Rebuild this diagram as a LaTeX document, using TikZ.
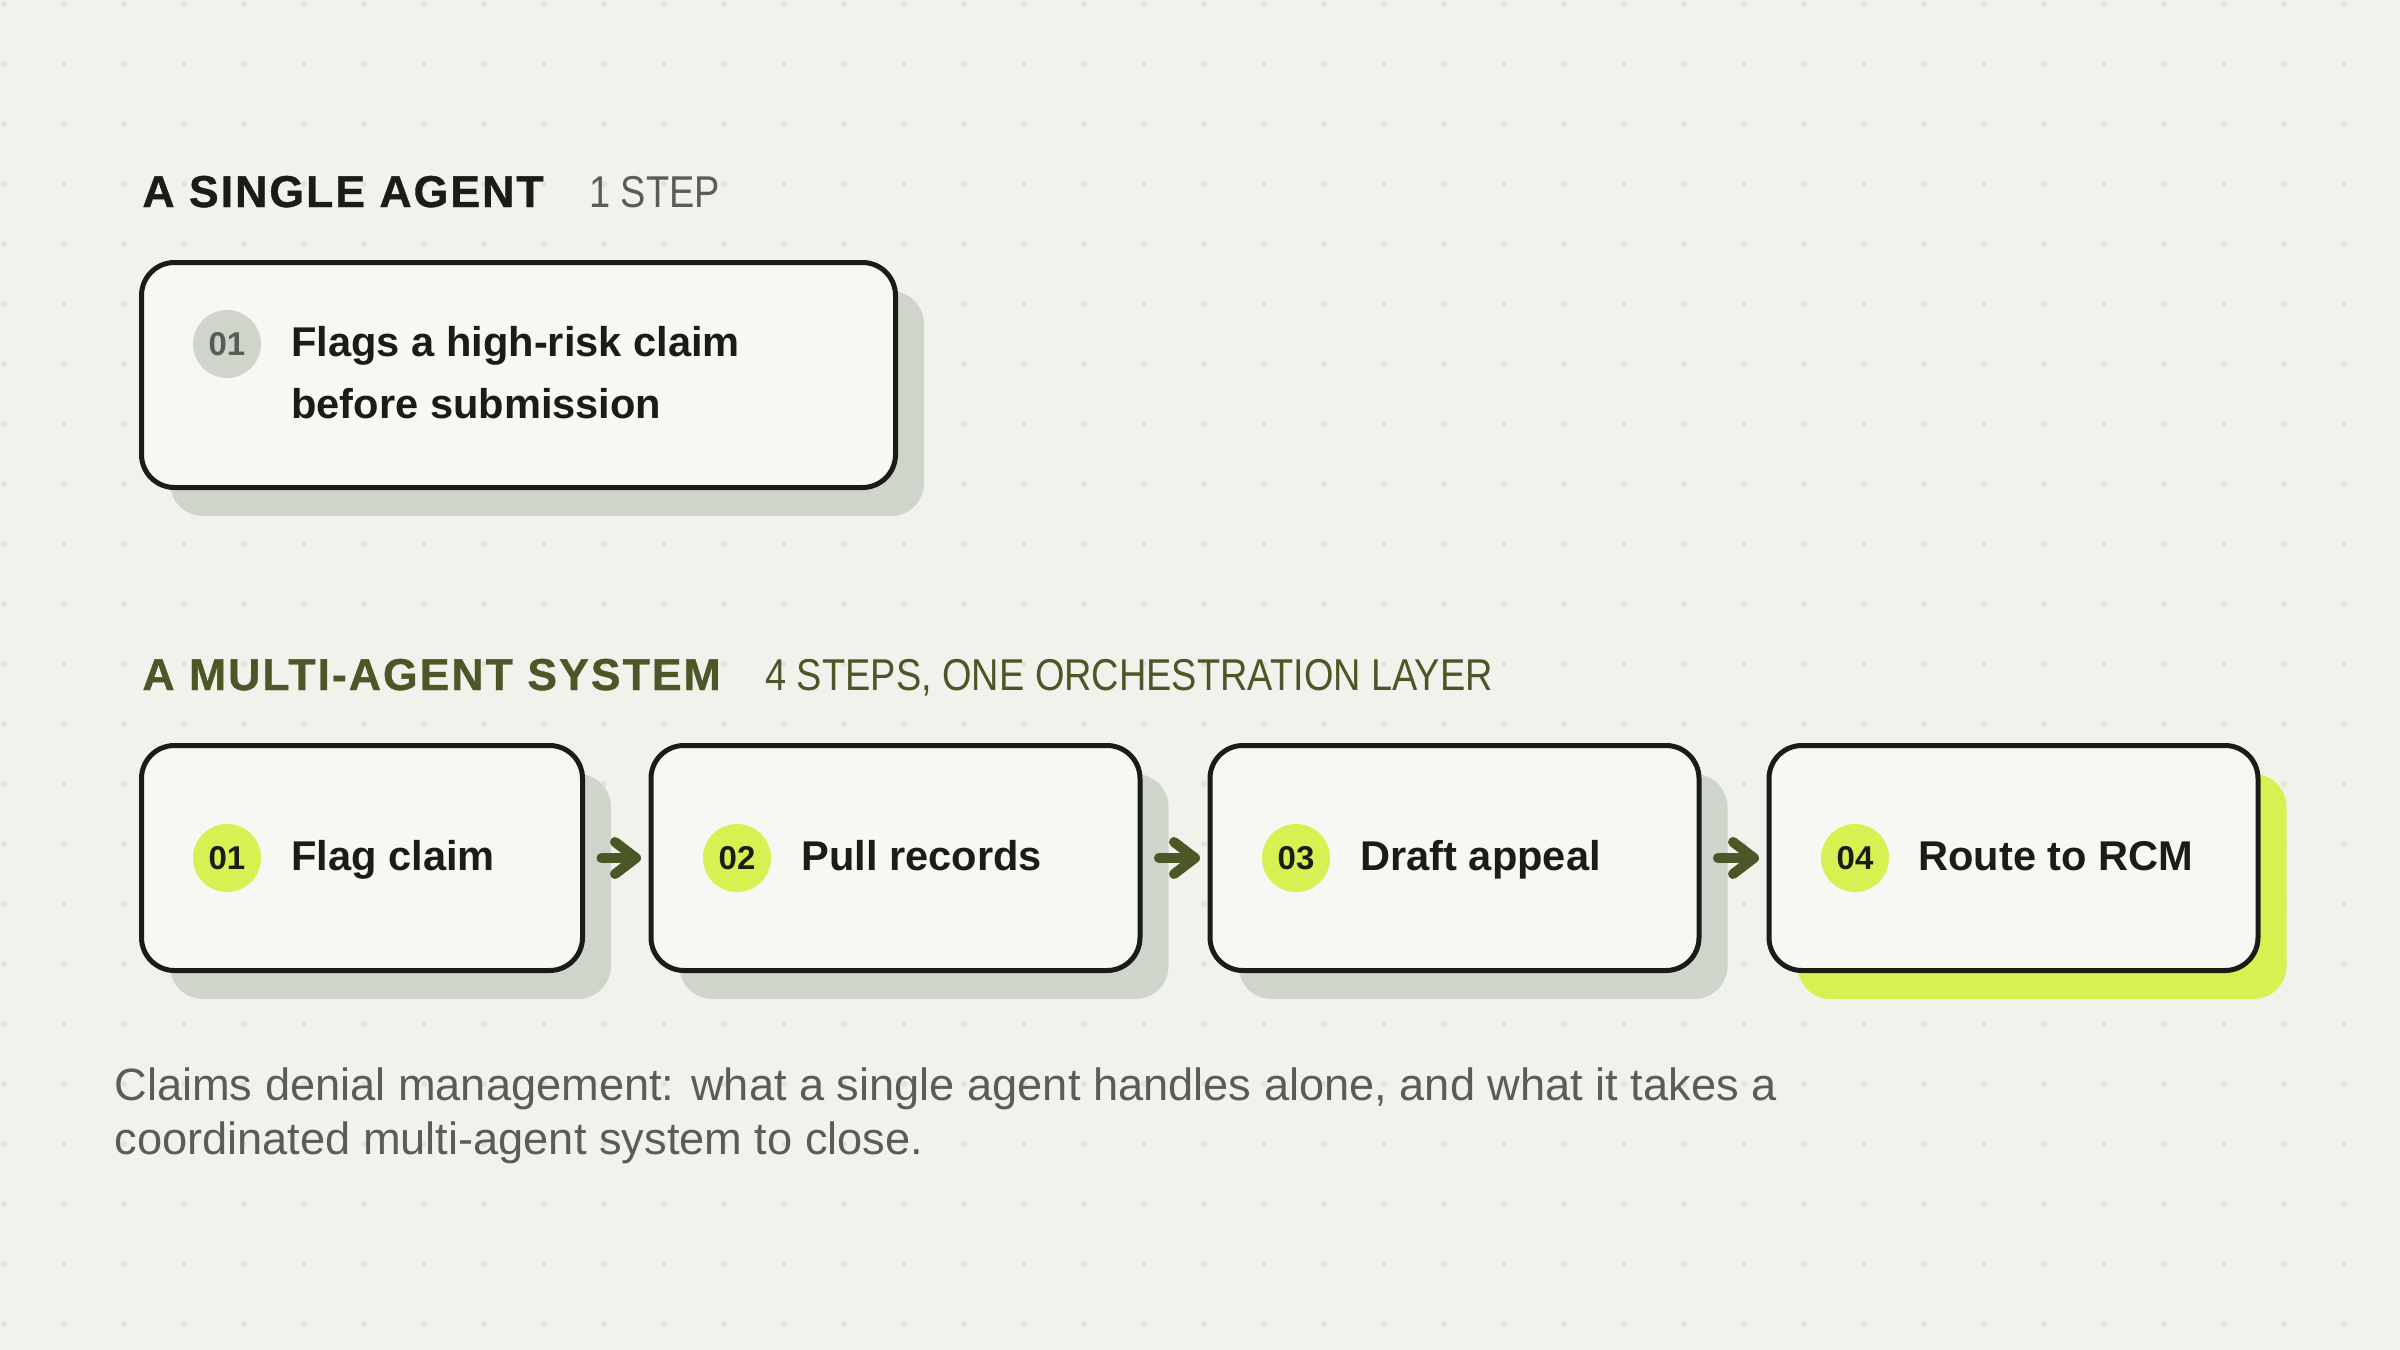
\documentclass[tikz,border=0pt]{standalone}
\usepackage{fontspec}
\setmainfont{Liberation Sans}
\newfontfamily\titlefont[LetterSpace=4.5,FakeBold=0.8]{Liberation Sans}
\newfontfamily\subfont[FakeStretch=0.85]{Liberation Sans}
\usetikzlibrary{arrows.meta,shadows}
\definecolor{bgc}{HTML}{F2F2ED}
\definecolor{dotc}{HTML}{E3E3DE}
\definecolor{cardfill}{HTML}{F7F7F3}
\definecolor{ink}{HTML}{1A1C16}
\definecolor{shadowc}{HTML}{D0D5CC}
\definecolor{limec}{HTML}{D8F052}
\definecolor{olive}{HTML}{4B5726}
\definecolor{graytext}{HTML}{5A5D55}
\begin{document}
\begin{tikzpicture}[x=0.5pt,y=-0.5pt,
  card/.style={draw=ink, line width=2.5pt, fill=cardfill, rounded corners=16.5pt,
    inner sep=0pt, minimum height=112.5pt,
    general shadow={shadow xshift=14.25pt, shadow yshift=-14.25pt, fill=#1, draw=none}},
  card/.default=shadowc,
  badge/.style={circle, minimum size=34pt, inner sep=0pt, fill=limec, text=ink,
    font=\bfseries\fontsize{16.5}{18}\selectfont},
  steplabel/.style={anchor=base west, inner sep=0pt, text=ink,
    font=\bfseries\fontsize{20.8}{24}\selectfont},
  heading/.style={anchor=base west, inner sep=0pt,
    font=\titlefont\bfseries\fontsize{22.3}{26}\selectfont},
  subheading/.style={anchor=base west, inner sep=0pt,
    font=\subfont\fontsize{22.3}{26}\selectfont},
  caption/.style={anchor=base west, inner sep=0pt, text=graytext,
    font=\fontsize{22.6}{27}\selectfont},
  flow/.style={draw=olive, line width=5pt, line cap=round,
    -{Straight Barb[length=10.5pt,width=16pt,round]}}
]
\useasboundingbox (0,0) rectangle (2400,1350);
\fill[bgc] (0,0) rectangle (2400,1350);
\foreach \i in {0,...,39}{\foreach \j in {0,...,22}{
  \fill[dotc] ({4+60*\i},{4+60*\j}) circle[radius=1.5pt];}}

% single agent
\node[heading, text=ink] (h1) at (142,207) {A SINGLE AGENT};
\node[subheading, text=graytext] (s1) at (589,207) {1 STEP};
\node[card, minimum width=377pt] (single) at (518.5,375) {};
\node[badge, fill=shadowc, text=graytext] (b0) at (227,344) {01};
\node[steplabel] (t0a) at (291,356) {Flags a high-risk claim};
\node[steplabel] (t0b) at (291,418) {before submission};

% multi agent
\node[heading, text=olive] (h2) at (142,690) {A MULTI-AGENT SYSTEM};
\node[subheading, text=olive] (s2) at (765,690) {4 STEPS, ONE ORCHESTRATION LAYER};

\node[card, minimum width=220.5pt] (A) at (362,858) {};
\node[card, minimum width=244.5pt] (B) at (895.5,858) {};
\node[card, minimum width=244.5pt] (C) at (1454.5,858) {};
\node[card=limec, minimum width=244.5pt] (D) at (2013.5,858) {};

\node[badge] (b1) at (227,858) {01};
\node[badge] (b2) at (737,858) {02};
\node[badge] (b3) at (1296,858) {03};
\node[badge] (b4) at (1855,858) {04};
\node[steplabel] (l1) at (291,870) {Flag claim};
\node[steplabel] (l2) at (801,870) {Pull records};
\node[steplabel] (l3) at (1360,870) {Draft appeal};
\node[steplabel] (l4) at (1918,870) {Route to RCM};

\draw[flow] ([shift={(16.5,0)}]A.east) -- ([shift={(-7.5,0)}]B.west);
\draw[flow] ([shift={(16.5,0)}]B.east) -- ([shift={(-7.5,0)}]C.west);
\draw[flow] ([shift={(16.5,0)}]C.east) -- ([shift={(-7.5,0)}]D.west);

\node[caption] (c1) at (114,1100) {Claims denial management: what a single agent handles alone, and what it takes a};
\node[caption] (c2) at (114,1154) {coordinated multi-agent system to close.};
\end{tikzpicture}
\end{document}
